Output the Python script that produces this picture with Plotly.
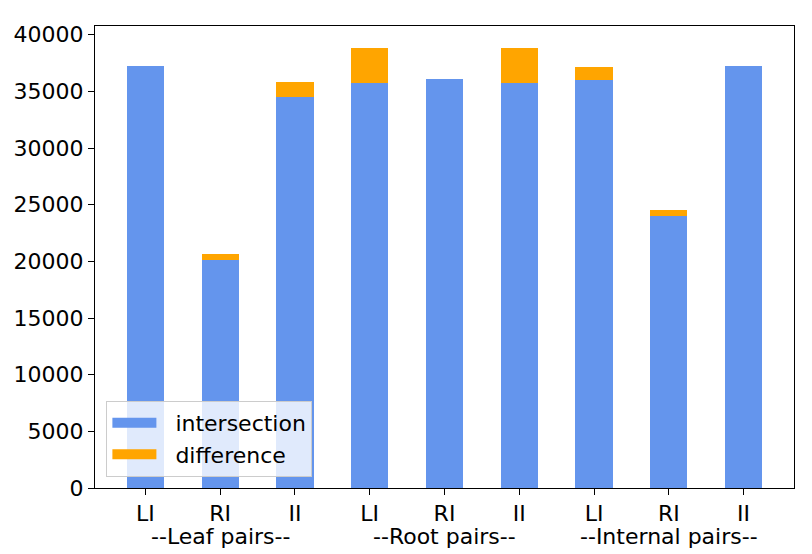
import plotly.graph_objects as go

categories = ["LI", "RI", "II", "LI", "RI", "II", "LI", "RI", "II"]
groups = ["--Leaf pairs--", "--Root pairs--", "--Internal pairs--"]
intersection = [37250, 20130, 34500, 35750, 36100, 35700, 36000, 24000, 37250]
difference = [0, 530, 1350, 3100, 0, 3150, 1150, 550, 0]

BLUE = "#6495ED"
ORANGE = "#FFA500"
xs = list(range(len(categories)))
font = "DejaVu Sans"
FS = 22
PAD = "\u00a0\u00a0"

fig = go.Figure()
fig.add_trace(go.Bar(x=xs, y=intersection, name="intersection", marker_color=BLUE,
                     marker_line_width=0, width=0.5, showlegend=False))
fig.add_trace(go.Bar(x=xs, y=difference, name="difference", marker_color=ORANGE,
                     marker_line_width=0, width=0.5, showlegend=False))
# legend entries (wide rectangular swatches)
for name, col in [("intersection", BLUE), ("difference", ORANGE)]:
    fig.add_trace(go.Scatter(x=[None], y=[None], mode="lines", name=PAD + name,
                             line=dict(color=col, width=16)))

for i, g in enumerate(groups):
    fig.add_annotation(x=3 * i + 1, y=-0.104, xref="x", yref="paper", text=g,
                       showarrow=False, yanchor="middle",
                       font=dict(size=FS, color="black", family=font))

fig.update_layout(
    barmode="stack",
    width=804, height=546,
    margin=dict(l=87, r=18, t=18, b=66, autoexpand=False),
    plot_bgcolor="white", paper_bgcolor="white",
    font=dict(family=font, size=FS, color="black"),
    legend=dict(x=0.0163, y=0.024, xanchor="left", yanchor="bottom",
                traceorder="normal",
                bgcolor="rgba(255,255,255,0.8)", bordercolor="#cccccc", borderwidth=1,
                font=dict(size=FS), itemwidth=44),
    xaxis=dict(range=[-0.675, 8.675], tickvals=xs, ticktext=categories, automargin=False,
               showline=True, linecolor="black", linewidth=1, mirror=True,
               ticks="outside", ticklen=6, tickcolor="black", showgrid=False, zeroline=False),
    yaxis=dict(range=[0, 40770], tickvals=list(range(0, 40001, 5000)), tickformat="d",
               automargin=False,
               showline=True, linecolor="black", linewidth=1, mirror=True,
               ticks="outside", ticklen=6, tickcolor="black", showgrid=False, zeroline=False),
)

fig.write_html("out.html")
